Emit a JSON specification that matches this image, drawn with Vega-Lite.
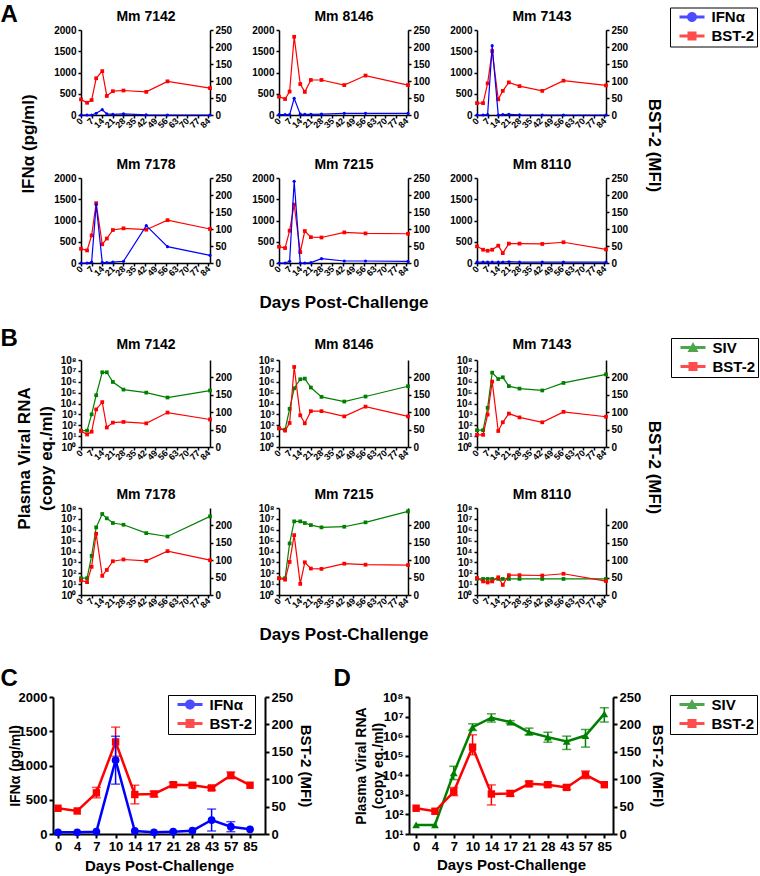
{
"$schema": "https://vega.github.io/schema/vega-lite/v6.json",
"padding": {"left": 0, "top": 0, "right": 2, "bottom": 2},
"background": "white",
"config": {
  "font": "Liberation Sans",
  "numberFormat": "d",
  "view": {"stroke": null},
  "axis": {"grid": false, "labelOverlap": false, "domainColor": "black", "tickColor": "black", "labelColor": "black", "titleColor": "black", "labelFont": "Liberation Sans", "titleFont": "Liberation Sans", "labelFontWeight": "bold", "titleFontWeight": "bold", "labelFontSize": 10, "titleFontSize": 17, "domainWidth": 1.5, "tickWidth": 1.5, "tickSize": 3, "labelPadding": 2},
  "legend": {"labelFont": "Liberation Sans", "labelFontWeight": "bold", "labelFontSize": 15, "labelColor": "black", "padding": 2, "rowPadding": 3, "symbolSize": 100, "symbolOffset": 12.5, "labelOffset": 12, "strokeColor": "black", "symbolStrokeWidth": 0}
},
"datasets": {
  "indiv": [
    {"m":"7142","day":0,"ifn":0,"bst":46,"siv":32},
    {"m":"7142","day":4,"ifn":0,"bst":36,"siv":32},
    {"m":"7142","day":7,"ifn":0,"bst":44,"siv":1000},
    {"m":"7142","day":10,"ifn":40,"bst":108,"siv":57500},
    {"m":"7142","day":14,"ifn":125,"bst":129,"siv":7400000},
    {"m":"7142","day":17,"ifn":25,"bst":56,"siv":7400000},
    {"m":"7142","day":21,"ifn":15,"bst":70,"siv":955000},
    {"m":"7142","day":28,"ifn":25,"bst":72,"siv":190000},
    {"m":"7142","day":43,"ifn":5,"bst":68,"siv":100000},
    {"m":"7142","day":57,"ifn":0,"bst":99,"siv":35500},
    {"m":"7142","day":85,"ifn":0,"bst":79,"siv":155000},
    {"m":"8146","day":0,"ifn":10,"bst":54,"siv":51},
    {"m":"8146","day":4,"ifn":10,"bst":47,"siv":39},
    {"m":"8146","day":7,"ifn":10,"bst":69,"siv":3200},
    {"m":"8146","day":10,"ifn":392,"bst":230,"siv":251000},
    {"m":"8146","day":14,"ifn":20,"bst":91,"siv":1700000},
    {"m":"8146","day":17,"ifn":15,"bst":68,"siv":1950000},
    {"m":"8146","day":21,"ifn":15,"bst":103,"siv":295000},
    {"m":"8146","day":28,"ifn":20,"bst":103,"siv":40700},
    {"m":"8146","day":43,"ifn":40,"bst":88,"siv":15100},
    {"m":"8146","day":57,"ifn":40,"bst":116,"siv":43700},
    {"m":"8146","day":85,"ifn":40,"bst":88,"siv":389000},
    {"m":"7143","day":0,"ifn":0,"bst":35,"siv":35},
    {"m":"7143","day":4,"ifn":0,"bst":35,"siv":35},
    {"m":"7143","day":7,"ifn":10,"bst":93,"siv":4000},
    {"m":"7143","day":10,"ifn":1631,"bst":188,"siv":6900000},
    {"m":"7143","day":14,"ifn":0,"bst":46,"siv":1780000},
    {"m":"7143","day":17,"ifn":10,"bst":71,"siv":2570000},
    {"m":"7143","day":21,"ifn":15,"bst":96,"siv":398000},
    {"m":"7143","day":28,"ifn":5,"bst":85,"siv":234000},
    {"m":"7143","day":43,"ifn":0,"bst":71,"siv":158000},
    {"m":"7143","day":57,"ifn":0,"bst":101,"siv":776000},
    {"m":"7143","day":85,"ifn":0,"bst":87,"siv":4790000},
    {"m":"7178","day":0,"ifn":0,"bst":42,"siv":35},
    {"m":"7178","day":4,"ifn":0,"bst":37,"siv":35},
    {"m":"7178","day":7,"ifn":20,"bst":81,"siv":4000},
    {"m":"7178","day":10,"ifn":1373,"bst":176,"siv":1660000},
    {"m":"7178","day":14,"ifn":16,"bst":55,"siv":28200000},
    {"m":"7178","day":17,"ifn":10,"bst":72,"siv":11200000},
    {"m":"7178","day":21,"ifn":20,"bst":97,"siv":4170000},
    {"m":"7178","day":28,"ifn":40,"bst":102,"siv":2880000},
    {"m":"7178","day":43,"ifn":878,"bst":98,"siv":490000},
    {"m":"7178","day":57,"ifn":384,"bst":126,"siv":240000},
    {"m":"7178","day":85,"ifn":180,"bst":100,"siv":17000000},
    {"m":"7215","day":0,"ifn":0,"bst":48,"siv":35},
    {"m":"7215","day":4,"ifn":0,"bst":44,"siv":35},
    {"m":"7215","day":7,"ifn":40,"bst":95,"siv":55000},
    {"m":"7215","day":10,"ifn":1922,"bst":172,"siv":5900000},
    {"m":"7215","day":14,"ifn":0,"bst":32,"siv":5900000},
    {"m":"7215","day":17,"ifn":0,"bst":94,"siv":4170000},
    {"m":"7215","day":21,"ifn":10,"bst":76,"siv":2690000},
    {"m":"7215","day":28,"ifn":102,"bst":75,"siv":1660000},
    {"m":"7215","day":43,"ifn":47,"bst":90,"siv":1900000},
    {"m":"7215","day":57,"ifn":47,"bst":87,"siv":4790000},
    {"m":"7215","day":85,"ifn":40,"bst":86,"siv":49000000},
    {"m":"8110","day":0,"ifn":20,"bst":49,"siv":30},
    {"m":"8110","day":4,"ifn":20,"bst":39,"siv":30},
    {"m":"8110","day":7,"ifn":20,"bst":36,"siv":30},
    {"m":"8110","day":10,"ifn":20,"bst":39,"siv":30},
    {"m":"8110","day":14,"ifn":20,"bst":51,"siv":30},
    {"m":"8110","day":17,"ifn":20,"bst":29,"siv":30},
    {"m":"8110","day":21,"ifn":30,"bst":57,"siv":30},
    {"m":"8110","day":28,"ifn":20,"bst":57,"siv":30},
    {"m":"8110","day":43,"ifn":20,"bst":56,"siv":30},
    {"m":"8110","day":57,"ifn":20,"bst":61,"siv":30},
    {"m":"8110","day":85,"ifn":20,"bst":40,"siv":30}
  ],
  "meanC": [
    {"day":"0","ifn":24,"bst":47},
    {"day":"4","ifn":24,"bst":42},
    {"day":"7","ifn":34,"bst":75,"bst_lo":66,"bst_hi":85},
    {"day":"10","ifn":1078,"bst":168,"ifn_lo":728,"ifn_hi":1427,"bst_lo":142,"bst_hi":195},
    {"day":"14","ifn":44,"bst":72,"bst_lo":55,"bst_hi":89},
    {"day":"17","ifn":24,"bst":73,"bst_lo":68,"bst_hi":78},
    {"day":"21","ifn":34,"bst":90,"bst_lo":86,"bst_hi":94},
    {"day":"28","ifn":49,"bst":89,"bst_lo":85,"bst_hi":93},
    {"day":"43","ifn":204,"bst":84,"ifn_lo":44,"ifn_hi":364,"bst_lo":80,"bst_hi":88},
    {"day":"57","ifn":107,"bst":107,"ifn_lo":34,"ifn_hi":180,"bst_lo":101,"bst_hi":113},
    {"day":"85","ifn":68,"bst":89}
  ],
  "meanD": [
    {"day":"0","siv":29,"bst":47},
    {"day":"4","siv":29,"bst":41.5},
    {"day":"7","siv":13200,"bst":77,"siv_lo":6030,"siv_hi":28800,"bst_lo":70,"bst_hi":85},
    {"day":"10","siv":2880000,"bst":158.5,"siv_lo":1950000,"siv_hi":4270000,"bst_lo":144.5,"bst_hi":181},
    {"day":"14","siv":8710000,"bst":73,"siv_lo":5250000,"siv_hi":13800000,"bst_lo":53,"bst_hi":89.6},
    {"day":"17","siv":5250000,"bst":74,"siv_lo":4470000,"siv_hi":6170000,"bst_lo":69,"bst_hi":79},
    {"day":"21","siv":1580000,"bst":91.5,"siv_lo":1170000,"siv_hi":2570000,"bst_lo":87,"bst_hi":96},
    {"day":"28","siv":891000,"bst":90,"siv_lo":490000,"siv_hi":1580000,"bst_lo":86,"bst_hi":94},
    {"day":"43","siv":537000,"bst":85,"siv_lo":209000,"siv_hi":1000000,"bst_lo":81,"bst_hi":89},
    {"day":"57","siv":1070000,"bst":108,"siv_lo":275000,"siv_hi":2190000,"bst_lo":101,"bst_hi":115},
    {"day":"85","siv":13800000,"bst":90,"siv_lo":5250000,"siv_hi":28200000}
  ]
},
"resolve": {"scale": {"color": "independent", "shape": "independent"}},
"bounds": "flush",
"spacing": 697,
"vconcat": [
 {"bounds": "flush", "spacing": 29, "resolve": {"scale": {"color": "independent", "shape": "independent"}},
  "vconcat": [
   {"width": 1, "height": 1, "data": {"values": [{"v": 0}]},
    "layer": [
     {"mark": {"type": "point", "opacity": 0, "size": 0}},
     {"transform": [{"filter": "false"}], "mark": {"type": "point", "filled": true, "size": 100},
      "encoding": {
       "color": {"field": "series", "type": "nominal", "scale": {"domain": ["IFNα", "BST-2"], "range": ["#0000ff", "#ff0000"]}, "legend": {"title": null, "orient": "none", "legendX": 617, "legendY": 7.5, "encode": {"legend": {"update": {"strokeWidth": {"value": 3}}}}}},
       "shape": {"field": "series", "type": "nominal", "scale": {"domain": ["IFNα", "BST-2"], "range": ["M-2.5,-0.3H2.5V0.3H-2.5Z M-1,0A1,1 0 1,1 1,0A1,1 0 1,1 -1,0Z", "M-2.5,-0.3H2.5V0.3H-2.5Z M-0.9,-0.9H0.9V0.9H-0.9Z"]}}
      }}
    ]},
   {"bounds": "flush", "spacing": 27, "resolve": {"scale": {"color": "independent", "shape": "independent"}},
    "hconcat": [
     {"width": 1, "height": 1, "data": {"values": [{"v": 0}]}, "mark": {"type": "point", "opacity": 0, "size": 0}},
     {"bounds": "flush", "spacing": 330, "resolve": {"scale": {"color": "independent", "shape": "independent"}},
      "vconcat": [
       {"bounds": "flush", "spacing": 148, "resolve": {"scale": {"color": "independent", "shape": "independent"}},
        "vconcat": [
         {"bounds": "flush", "spacing": 69, "resolve": {"scale": {"color": "independent", "shape": "independent"}},
          "hconcat": [
           {"width": 129, "height": 85,
            "data": {"name": "indiv"}, "transform": [{"filter": "datum.m == '7142'"}],
            "encoding": {"x": {"field": "day", "type": "quantitative", "scale": {"domain": [0, 85], "nice": false}, "axis": {"values": [0,7,14,21,28,35,42,49,56,63,70,77,84], "labelAngle": -45, "labelAlign": "right", "labelBaseline": "middle", "labelFontSize": 9, "labelPadding": 1, "title": "A", "titleFontSize": 24, "titleAngle": 0, "titleAlign": "left", "titleBaseline": "alphabetic", "titleX": -81, "titleY": -94}}},
            "layer": [
             {"mark": {"type": "line", "color": "#ff0000", "strokeWidth": 1.2, "point": {"shape": "square", "size": 14, "filled": true, "color": "#ff0000"}}, "encoding": {"y": {"field": "bst", "type": "quantitative", "scale": {"domain": [0, 250], "nice": false}, "axis": {"orient": "right", "values": [0,50,100,150,200,250], "title": "Mm 7142", "titleFontSize": 14, "titleAngle": 0, "titleAlign": "center", "titleBaseline": "alphabetic", "titleX": -64.5, "titleY": -10}}}},
             {"mark": {"type": "line", "color": "#0000ff", "strokeWidth": 1.2, "point": {"shape": "circle", "size": 10, "filled": true, "color": "#0000ff"}}, "encoding": {"y": {"field": "ifn", "type": "quantitative", "scale": {"domain": [0, 2000], "nice": false}, "axis": {"orient": "left", "values": [0,500,1000,1500,2000], "title": "IFNα  (pg/ml)", "titleX": -52.5, "titleY": 113.5, "titleAngle": -90, "titleAlign": "center", "titleBaseline": "middle"}}}}
            ],
            "resolve": {"scale": {"y": "independent"}}},
           {"width": 129, "height": 85,
            "data": {"name": "indiv"}, "transform": [{"filter": "datum.m == '8146'"}],
            "encoding": {"x": {"field": "day", "type": "quantitative", "scale": {"domain": [0, 85], "nice": false}, "axis": {"values": [0,7,14,21,28,35,42,49,56,63,70,77,84], "title": null, "labelAngle": -45, "labelAlign": "right", "labelBaseline": "middle", "labelFontSize": 9, "labelPadding": 1}}},
            "layer": [
             {"mark": {"type": "line", "color": "#ff0000", "strokeWidth": 1.2, "point": {"shape": "square", "size": 14, "filled": true, "color": "#ff0000"}}, "encoding": {"y": {"field": "bst", "type": "quantitative", "scale": {"domain": [0, 250], "nice": false}, "axis": {"orient": "right", "values": [0,50,100,150,200,250], "title": null}}}},
             {"mark": {"type": "line", "color": "#0000ff", "strokeWidth": 1.2, "point": {"shape": "circle", "size": 10, "filled": true, "color": "#0000ff"}}, "encoding": {"y": {"field": "ifn", "type": "quantitative", "scale": {"domain": [0, 2000], "nice": false}, "axis": {"orient": "left", "values": [0,500,1000,1500,2000], "title": "Mm 8146", "titleFontSize": 14, "titleAngle": 0, "titleAlign": "center", "titleBaseline": "alphabetic", "titleX": 64.5, "titleY": -10}}}}
            ],
            "resolve": {"scale": {"y": "independent"}}},
           {"width": 129, "height": 85,
            "data": {"name": "indiv"}, "transform": [{"filter": "datum.m == '7143'"}],
            "encoding": {"x": {"field": "day", "type": "quantitative", "scale": {"domain": [0, 85], "nice": false}, "axis": {"values": [0,7,14,21,28,35,42,49,56,63,70,77,84], "title": null, "labelAngle": -45, "labelAlign": "right", "labelBaseline": "middle", "labelFontSize": 9, "labelPadding": 1}}},
            "layer": [
             {"mark": {"type": "line", "color": "#ff0000", "strokeWidth": 1.2, "point": {"shape": "square", "size": 14, "filled": true, "color": "#ff0000"}}, "encoding": {"y": {"field": "bst", "type": "quantitative", "scale": {"domain": [0, 250], "nice": false}, "axis": {"orient": "right", "values": [0,50,100,150,200,250], "title": "BST-2 (MFI)", "titleX": 47, "titleY": 115, "titleAngle": 90, "titleAlign": "center", "titleBaseline": "middle"}}}},
             {"mark": {"type": "line", "color": "#0000ff", "strokeWidth": 1.2, "point": {"shape": "circle", "size": 10, "filled": true, "color": "#0000ff"}}, "encoding": {"y": {"field": "ifn", "type": "quantitative", "scale": {"domain": [0, 2000], "nice": false}, "axis": {"orient": "left", "values": [0,500,1000,1500,2000], "title": "Mm 7143", "titleFontSize": 14, "titleAngle": 0, "titleAlign": "center", "titleBaseline": "alphabetic", "titleX": 64.5, "titleY": -10}}}}
            ],
            "resolve": {"scale": {"y": "independent"}}}
          ]},
         {"bounds": "flush", "spacing": 69, "resolve": {"scale": {"color": "independent", "shape": "independent"}},
          "hconcat": [
           {"width": 129, "height": 85,
            "data": {"name": "indiv"}, "transform": [{"filter": "datum.m == '7178'"}],
            "encoding": {"x": {"field": "day", "type": "quantitative", "scale": {"domain": [0, 85], "nice": false}, "axis": {"values": [0,7,14,21,28,35,42,49,56,63,70,77,84], "title": null, "labelAngle": -45, "labelAlign": "right", "labelBaseline": "middle", "labelFontSize": 9, "labelPadding": 1}}},
            "layer": [
             {"mark": {"type": "line", "color": "#ff0000", "strokeWidth": 1.2, "point": {"shape": "square", "size": 14, "filled": true, "color": "#ff0000"}}, "encoding": {"y": {"field": "bst", "type": "quantitative", "scale": {"domain": [0, 250], "nice": false}, "axis": {"orient": "right", "values": [0,50,100,150,200,250], "title": null}}}},
             {"mark": {"type": "line", "color": "#0000ff", "strokeWidth": 1.2, "point": {"shape": "circle", "size": 10, "filled": true, "color": "#0000ff"}}, "encoding": {"y": {"field": "ifn", "type": "quantitative", "scale": {"domain": [0, 2000], "nice": false}, "axis": {"orient": "left", "values": [0,500,1000,1500,2000], "title": "Mm 7178", "titleFontSize": 14, "titleAngle": 0, "titleAlign": "center", "titleBaseline": "alphabetic", "titleX": 64.5, "titleY": -10}}}}
            ],
            "resolve": {"scale": {"y": "independent"}}},
           {"width": 129, "height": 85,
            "data": {"name": "indiv"}, "transform": [{"filter": "datum.m == '7215'"}],
            "encoding": {"x": {"field": "day", "type": "quantitative", "scale": {"domain": [0, 85], "nice": false}, "axis": {"values": [0,7,14,21,28,35,42,49,56,63,70,77,84], "title": "Days Post-Challenge", "titleY": 44, "titleBaseline": "alphabetic", "labelAngle": -45, "labelAlign": "right", "labelBaseline": "middle", "labelFontSize": 9, "labelPadding": 1}}},
            "layer": [
             {"mark": {"type": "line", "color": "#ff0000", "strokeWidth": 1.2, "point": {"shape": "square", "size": 14, "filled": true, "color": "#ff0000"}}, "encoding": {"y": {"field": "bst", "type": "quantitative", "scale": {"domain": [0, 250], "nice": false}, "axis": {"orient": "right", "values": [0,50,100,150,200,250], "title": null}}}},
             {"mark": {"type": "line", "color": "#0000ff", "strokeWidth": 1.2, "point": {"shape": "circle", "size": 10, "filled": true, "color": "#0000ff"}}, "encoding": {"y": {"field": "ifn", "type": "quantitative", "scale": {"domain": [0, 2000], "nice": false}, "axis": {"orient": "left", "values": [0,500,1000,1500,2000], "title": "Mm 7215", "titleFontSize": 14, "titleAngle": 0, "titleAlign": "center", "titleBaseline": "alphabetic", "titleX": 64.5, "titleY": -10}}}}
            ],
            "resolve": {"scale": {"y": "independent"}}},
           {"width": 129, "height": 85,
            "data": {"name": "indiv"}, "transform": [{"filter": "datum.m == '8110'"}],
            "encoding": {"x": {"field": "day", "type": "quantitative", "scale": {"domain": [0, 85], "nice": false}, "axis": {"values": [0,7,14,21,28,35,42,49,56,63,70,77,84], "title": null, "labelAngle": -45, "labelAlign": "right", "labelBaseline": "middle", "labelFontSize": 9, "labelPadding": 1}}},
            "layer": [
             {"mark": {"type": "line", "color": "#ff0000", "strokeWidth": 1.2, "point": {"shape": "square", "size": 14, "filled": true, "color": "#ff0000"}}, "encoding": {"y": {"field": "bst", "type": "quantitative", "scale": {"domain": [0, 250], "nice": false}, "axis": {"orient": "right", "values": [0,50,100,150,200,250], "title": null}}}},
             {"mark": {"type": "line", "color": "#0000ff", "strokeWidth": 1.2, "point": {"shape": "circle", "size": 10, "filled": true, "color": "#0000ff"}}, "encoding": {"y": {"field": "ifn", "type": "quantitative", "scale": {"domain": [0, 2000], "nice": false}, "axis": {"orient": "left", "values": [0,500,1000,1500,2000], "title": "Mm 8110", "titleFontSize": 14, "titleAngle": 0, "titleAlign": "center", "titleBaseline": "alphabetic", "titleX": 64.5, "titleY": -10}}}}
            ],
            "resolve": {"scale": {"y": "independent"}}}
          ]}
        ]},
       {"bounds": "flush", "spacing": 148, "resolve": {"scale": {"color": "independent", "shape": "independent"}},
        "vconcat": [
         {"bounds": "flush", "spacing": 69, "resolve": {"scale": {"color": "independent", "shape": "independent"}},
          "hconcat": [
           {"width": 129, "height": 87,
            "data": {"name": "indiv"}, "transform": [{"filter": "datum.m == '7142'"}],
            "encoding": {"x": {"field": "day", "type": "quantitative", "scale": {"domain": [0, 85], "nice": false}, "axis": {"values": [0,7,14,21,28,35,42,49,56,63,70,77,84], "labelAngle": -45, "labelAlign": "right", "labelBaseline": "middle", "labelFontSize": 9, "labelPadding": 1, "title": "B", "titleFontSize": 24, "titleAngle": 0, "titleAlign": "left", "titleBaseline": "alphabetic", "titleX": -81, "titleY": -102}}},
            "layer": [
             {"mark": {"type": "line", "color": "#008000", "strokeWidth": 1.2, "point": {"shape": "square", "size": 14, "filled": true, "color": "#008000"}}, "encoding": {"y": {"field": "siv", "type": "quantitative", "scale": {"type": "log", "domain": [1, 100000000], "nice": false}, "axis": {"orient": "left", "values": [1,10,100,1000,10000,100000,1000000,10000000,100000000], "labelExpr": "'10' + ['⁰','¹','²','³','⁴','⁵','⁶','⁷','⁸'][round(log(datum.value)/LN10)]", "title": ["Plasma Viral RNA", "(copy eq./ml)"], "titleLineHeight": 22, "titleX": -56.5, "titleY": 98, "titleAngle": -90, "titleAlign": "center", "titleBaseline": "middle"}}}},
             {"mark": {"type": "line", "color": "#ff0000", "strokeWidth": 1.2, "point": {"shape": "square", "size": 14, "filled": true, "color": "#ff0000"}}, "encoding": {"y": {"field": "bst", "type": "quantitative", "scale": {"domain": [0, 250], "nice": false}, "axis": {"orient": "right", "values": [0,50,100,150,200], "title": "Mm 7142", "titleFontSize": 14, "titleAngle": 0, "titleAlign": "center", "titleBaseline": "alphabetic", "titleX": -64.5, "titleY": -12}}}}
            ],
            "resolve": {"scale": {"y": "independent"}}},
           {"width": 129, "height": 87,
            "data": {"name": "indiv"}, "transform": [{"filter": "datum.m == '8146'"}],
            "encoding": {"x": {"field": "day", "type": "quantitative", "scale": {"domain": [0, 85], "nice": false}, "axis": {"values": [0,7,14,21,28,35,42,49,56,63,70,77,84], "title": null, "labelAngle": -45, "labelAlign": "right", "labelBaseline": "middle", "labelFontSize": 9, "labelPadding": 1}}},
            "layer": [
             {"mark": {"type": "line", "color": "#008000", "strokeWidth": 1.2, "point": {"shape": "square", "size": 14, "filled": true, "color": "#008000"}}, "encoding": {"y": {"field": "siv", "type": "quantitative", "scale": {"type": "log", "domain": [1, 100000000], "nice": false}, "axis": {"orient": "left", "values": [1,10,100,1000,10000,100000,1000000,10000000,100000000], "labelExpr": "'10' + ['⁰','¹','²','³','⁴','⁵','⁶','⁷','⁸'][round(log(datum.value)/LN10)]", "title": "Mm 8146", "titleFontSize": 14, "titleAngle": 0, "titleAlign": "center", "titleBaseline": "alphabetic", "titleX": 64.5, "titleY": -12}}}},
             {"mark": {"type": "line", "color": "#ff0000", "strokeWidth": 1.2, "point": {"shape": "square", "size": 14, "filled": true, "color": "#ff0000"}}, "encoding": {"y": {"field": "bst", "type": "quantitative", "scale": {"domain": [0, 250], "nice": false}, "axis": {"orient": "right", "values": [0,50,100,150,200], "title": null}}}}
            ],
            "resolve": {"scale": {"y": "independent"}}},
           {"width": 129, "height": 87,
            "data": {"name": "indiv"}, "transform": [{"filter": "datum.m == '7143'"}],
            "encoding": {"x": {"field": "day", "type": "quantitative", "scale": {"domain": [0, 85], "nice": false}, "axis": {"values": [0,7,14,21,28,35,42,49,56,63,70,77,84], "title": null, "labelAngle": -45, "labelAlign": "right", "labelBaseline": "middle", "labelFontSize": 9, "labelPadding": 1}}},
            "layer": [
             {"mark": {"type": "line", "color": "#008000", "strokeWidth": 1.2, "point": {"shape": "square", "size": 14, "filled": true, "color": "#008000"}}, "encoding": {"y": {"field": "siv", "type": "quantitative", "scale": {"type": "log", "domain": [1, 100000000], "nice": false}, "axis": {"orient": "left", "values": [1,10,100,1000,10000,100000,1000000,10000000,100000000], "labelExpr": "'10' + ['⁰','¹','²','³','⁴','⁵','⁶','⁷','⁸'][round(log(datum.value)/LN10)]", "title": "Mm 7143", "titleFontSize": 14, "titleAngle": 0, "titleAlign": "center", "titleBaseline": "alphabetic", "titleX": 64.5, "titleY": -12}}}},
             {"mark": {"type": "line", "color": "#ff0000", "strokeWidth": 1.2, "point": {"shape": "square", "size": 14, "filled": true, "color": "#ff0000"}}, "encoding": {"y": {"field": "bst", "type": "quantitative", "scale": {"domain": [0, 250], "nice": false}, "axis": {"orient": "right", "values": [0,50,100,150,200], "title": "BST-2 (MFI)", "titleX": 47.5, "titleY": 107, "titleAngle": 90, "titleAlign": "center", "titleBaseline": "middle"}}}},
             {"transform": [{"filter": "false"}], "mark": {"type": "point", "filled": true, "size": 100},
              "encoding": {
               "color": {"field": "series", "type": "nominal", "scale": {"domain": ["SIV", "BST-2"], "range": ["#008000", "#ff0000"]}, "legend": {"title": null, "orient": "none", "legendX": 194, "legendY": -22, "encode": {"legend": {"update": {"strokeWidth": {"value": 3}}}}}},
               "shape": {"field": "series", "type": "nominal", "scale": {"domain": ["SIV", "BST-2"], "range": ["M-2.5,-0.3H2.5V0.3H-2.5Z M0,-1.1L1.1,0.9H-1.1Z", "M-2.5,-0.3H2.5V0.3H-2.5Z M-0.9,-0.9H0.9V0.9H-0.9Z"]}}
              }}
            ],
            "resolve": {"scale": {"y": "independent"}}}
          ]},
         {"bounds": "flush", "spacing": 69, "resolve": {"scale": {"color": "independent", "shape": "independent"}},
          "hconcat": [
           {"width": 129, "height": 87,
            "data": {"name": "indiv"}, "transform": [{"filter": "datum.m == '7178'"}],
            "encoding": {"x": {"field": "day", "type": "quantitative", "scale": {"domain": [0, 85], "nice": false}, "axis": {"values": [0,7,14,21,28,35,42,49,56,63,70,77,84], "labelAngle": -45, "labelAlign": "right", "labelBaseline": "middle", "labelFontSize": 9, "labelPadding": 1, "title": "C", "titleFontSize": 24, "titleAngle": 0, "titleAlign": "left", "titleBaseline": "alphabetic", "titleX": -81, "titleY": 90}}},
            "layer": [
             {"mark": {"type": "line", "color": "#008000", "strokeWidth": 1.2, "point": {"shape": "square", "size": 14, "filled": true, "color": "#008000"}}, "encoding": {"y": {"field": "siv", "type": "quantitative", "scale": {"type": "log", "domain": [1, 100000000], "nice": false}, "axis": {"orient": "left", "values": [1,10,100,1000,10000,100000,1000000,10000000,100000000], "labelExpr": "'10' + ['⁰','¹','²','³','⁴','⁵','⁶','⁷','⁸'][round(log(datum.value)/LN10)]", "title": "Mm 7178", "titleFontSize": 14, "titleAngle": 0, "titleAlign": "center", "titleBaseline": "alphabetic", "titleX": 64.5, "titleY": -10}}}},
             {"mark": {"type": "line", "color": "#ff0000", "strokeWidth": 1.2, "point": {"shape": "square", "size": 14, "filled": true, "color": "#ff0000"}}, "encoding": {"y": {"field": "bst", "type": "quantitative", "scale": {"domain": [0, 250], "nice": false}, "axis": {"orient": "right", "values": [0,50,100,150,200], "title": null}}}}
            ],
            "resolve": {"scale": {"y": "independent"}}},
           {"width": 129, "height": 87,
            "data": {"name": "indiv"}, "transform": [{"filter": "datum.m == '7215'"}],
            "encoding": {"x": {"field": "day", "type": "quantitative", "scale": {"domain": [0, 85], "nice": false}, "axis": {"values": [0,7,14,21,28,35,42,49,56,63,70,77,84], "title": "Days Post-Challenge", "titleY": 44, "titleBaseline": "alphabetic", "labelAngle": -45, "labelAlign": "right", "labelBaseline": "middle", "labelFontSize": 9, "labelPadding": 1}}},
            "layer": [
             {"mark": {"type": "line", "color": "#008000", "strokeWidth": 1.2, "point": {"shape": "square", "size": 14, "filled": true, "color": "#008000"}}, "encoding": {"y": {"field": "siv", "type": "quantitative", "scale": {"type": "log", "domain": [1, 100000000], "nice": false}, "axis": {"orient": "left", "values": [1,10,100,1000,10000,100000,1000000,10000000,100000000], "labelExpr": "'10' + ['⁰','¹','²','³','⁴','⁵','⁶','⁷','⁸'][round(log(datum.value)/LN10)]", "title": "Mm 7215", "titleFontSize": 14, "titleAngle": 0, "titleAlign": "center", "titleBaseline": "alphabetic", "titleX": 64.5, "titleY": -10}}}},
             {"mark": {"type": "line", "color": "#ff0000", "strokeWidth": 1.2, "point": {"shape": "square", "size": 14, "filled": true, "color": "#ff0000"}}, "encoding": {"y": {"field": "bst", "type": "quantitative", "scale": {"domain": [0, 250], "nice": false}, "axis": {"orient": "right", "values": [0,50,100,150,200], "title": null}}}}
            ],
            "resolve": {"scale": {"y": "independent"}}},
           {"width": 129, "height": 87,
            "data": {"name": "indiv"}, "transform": [{"filter": "datum.m == '8110'"}],
            "encoding": {"x": {"field": "day", "type": "quantitative", "scale": {"domain": [0, 85], "nice": false}, "axis": {"values": [0,7,14,21,28,35,42,49,56,63,70,77,84], "labelAngle": -45, "labelAlign": "right", "labelBaseline": "middle", "labelFontSize": 9, "labelPadding": 1, "title": "D", "titleFontSize": 24, "titleAngle": 0, "titleAlign": "left", "titleBaseline": "alphabetic", "titleX": -144, "titleY": 90}}},
            "layer": [
             {"mark": {"type": "line", "color": "#008000", "strokeWidth": 1.2, "point": {"shape": "square", "size": 14, "filled": true, "color": "#008000"}}, "encoding": {"y": {"field": "siv", "type": "quantitative", "scale": {"type": "log", "domain": [1, 100000000], "nice": false}, "axis": {"orient": "left", "values": [1,10,100,1000,10000,100000,1000000,10000000,100000000], "labelExpr": "'10' + ['⁰','¹','²','³','⁴','⁵','⁶','⁷','⁸'][round(log(datum.value)/LN10)]", "title": "Mm 8110", "titleFontSize": 14, "titleAngle": 0, "titleAlign": "center", "titleBaseline": "alphabetic", "titleX": 64.5, "titleY": -10}}}},
             {"mark": {"type": "line", "color": "#ff0000", "strokeWidth": 1.2, "point": {"shape": "square", "size": 14, "filled": true, "color": "#ff0000"}}, "encoding": {"y": {"field": "bst", "type": "quantitative", "scale": {"domain": [0, 250], "nice": false}, "axis": {"orient": "right", "values": [0,50,100,150,200], "title": null}}}}
            ],
            "resolve": {"scale": {"y": "independent"}}}
          ]}
        ]}
      ]}
    ]}
  ]},
 {"bounds": "flush", "spacing": 144, "resolve": {"scale": {"color": "independent", "shape": "independent"}},
  "hconcat": [
   {"width": 212, "height": 137,
    "data": {"name": "meanC"},
    "encoding": {"x": {"field": "day", "type": "ordinal", "sort": null, "scale": {"type": "point", "domain": ["0","4","7","10","14","17","21","28","43","57","85"], "padding": 0.52, "align": 0.25}, "axis": {"labelAngle": 0, "labelAlign": "center", "labelBaseline": "top", "labelFontSize": 13, "labelPadding": 2, "tickSize": 4, "tickWidth": 2, "domainWidth": 2, "title": "Days Post-Challenge", "titleFontSize": 15, "titleY": 36, "titleBaseline": "alphabetic"}}},
    "layer": [
     {"layer": [
       {"transform": [{"filter": "datum.bst_lo != null"}], "mark": {"type": "rule", "color": "#ff0000", "strokeWidth": 1.5}, "encoding": {"y": {"field": "bst_lo", "type": "quantitative", "scale": {"domain": [0, 250], "nice": false}, "axis": {"orient": "right", "values": [0,50,100,150,200,250], "labelFontSize": 13, "tickSize": 4, "tickWidth": 2, "domainWidth": 2, "labelPadding": 2, "title": "BST-2 (MFI)", "titleFontSize": 15, "titleX": 40, "titleAngle": 90, "titleAlign": "center", "titleBaseline": "middle"}}, "y2": {"field": "bst_hi"}}},
       {"transform": [{"filter": "datum.bst_lo != null"}], "mark": {"type": "tick", "color": "#ff0000", "thickness": 1.5, "size": 9}, "encoding": {"y": {"field": "bst_hi", "type": "quantitative", "scale": {"domain": [0, 250], "nice": false}, "axis": {"orient": "right", "values": [0,50,100,150,200,250], "labelFontSize": 13, "tickSize": 4, "tickWidth": 2, "domainWidth": 2, "labelPadding": 2, "title": "BST-2 (MFI)", "titleFontSize": 15, "titleX": 40, "titleAngle": 90, "titleAlign": "center", "titleBaseline": "middle"}}}},
       {"transform": [{"filter": "datum.bst_lo != null"}], "mark": {"type": "tick", "color": "#ff0000", "thickness": 1.5, "size": 9}, "encoding": {"y": {"field": "bst_lo", "type": "quantitative", "scale": {"domain": [0, 250], "nice": false}, "axis": {"orient": "right", "values": [0,50,100,150,200,250], "labelFontSize": 13, "tickSize": 4, "tickWidth": 2, "domainWidth": 2, "labelPadding": 2, "title": "BST-2 (MFI)", "titleFontSize": 15, "titleX": 40, "titleAngle": 90, "titleAlign": "center", "titleBaseline": "middle"}}}},
       {"mark": {"type": "line", "color": "#ff0000", "strokeWidth": 2.5, "point": {"shape": "square", "size": 55, "filled": true, "color": "#ff0000"}}, "encoding": {"y": {"field": "bst", "type": "quantitative", "scale": {"domain": [0, 250], "nice": false}, "axis": {"orient": "right", "values": [0,50,100,150,200,250], "labelFontSize": 13, "tickSize": 4, "tickWidth": 2, "domainWidth": 2, "labelPadding": 2, "title": "BST-2 (MFI)", "titleFontSize": 15, "titleX": 40, "titleAngle": 90, "titleAlign": "center", "titleBaseline": "middle"}}}}
     ]},
     {"layer": [
       {"transform": [{"filter": "datum.ifn_lo != null"}], "mark": {"type": "rule", "color": "#0000ff", "strokeWidth": 1.5}, "encoding": {"y": {"field": "ifn_lo", "type": "quantitative", "scale": {"domain": [0, 2000], "nice": false}, "axis": {"orient": "left", "values": [0,500,1000,1500,2000], "labelFontSize": 13, "tickSize": 4, "tickWidth": 2, "domainWidth": 2, "labelPadding": 2, "title": "IFNα  (pg/ml)", "titleFontSize": 14, "titleX": -38, "titleAngle": -90, "titleAlign": "center", "titleBaseline": "middle"}}, "y2": {"field": "ifn_hi"}}},
       {"transform": [{"filter": "datum.ifn_lo != null"}], "mark": {"type": "tick", "color": "#0000ff", "thickness": 1.5, "size": 9}, "encoding": {"y": {"field": "ifn_hi", "type": "quantitative", "scale": {"domain": [0, 2000], "nice": false}, "axis": {"orient": "left", "values": [0,500,1000,1500,2000], "labelFontSize": 13, "tickSize": 4, "tickWidth": 2, "domainWidth": 2, "labelPadding": 2, "title": "IFNα  (pg/ml)", "titleFontSize": 14, "titleX": -38, "titleAngle": -90, "titleAlign": "center", "titleBaseline": "middle"}}}},
       {"transform": [{"filter": "datum.ifn_lo != null"}], "mark": {"type": "tick", "color": "#0000ff", "thickness": 1.5, "size": 9}, "encoding": {"y": {"field": "ifn_lo", "type": "quantitative", "scale": {"domain": [0, 2000], "nice": false}, "axis": {"orient": "left", "values": [0,500,1000,1500,2000], "labelFontSize": 13, "tickSize": 4, "tickWidth": 2, "domainWidth": 2, "labelPadding": 2, "title": "IFNα  (pg/ml)", "titleFontSize": 14, "titleX": -38, "titleAngle": -90, "titleAlign": "center", "titleBaseline": "middle"}}}},
       {"mark": {"type": "line", "color": "#0000ff", "strokeWidth": 2.5, "point": {"shape": "circle", "size": 60, "filled": true, "color": "#0000ff"}}, "encoding": {"y": {"field": "ifn", "type": "quantitative", "scale": {"domain": [0, 2000], "nice": false}, "axis": {"orient": "left", "values": [0,500,1000,1500,2000], "labelFontSize": 13, "tickSize": 4, "tickWidth": 2, "domainWidth": 2, "labelPadding": 2, "title": "IFNα  (pg/ml)", "titleFontSize": 14, "titleX": -38, "titleAngle": -90, "titleAlign": "center", "titleBaseline": "middle"}}}}
     ]},
     {"transform": [{"filter": "false"}], "mark": {"type": "point", "filled": true, "size": 100},
      "encoding": {
       "color": {"field": "series", "type": "nominal", "scale": {"domain": ["IFNα", "BST-2"], "range": ["#0000ff", "#ff0000"]}, "legend": {"title": null, "orient": "none", "legendX": 115, "legendY": -2, "encode": {"legend": {"update": {"strokeWidth": {"value": 3}}}}}},
       "shape": {"field": "series", "type": "nominal", "scale": {"domain": ["IFNα", "BST-2"], "range": ["M-2.5,-0.3H2.5V0.3H-2.5Z M-1,0A1,1 0 1,1 1,0A1,1 0 1,1 -1,0Z", "M-2.5,-0.3H2.5V0.3H-2.5Z M-0.9,-0.9H0.9V0.9H-0.9Z"]}}
      }}
    ],
    "resolve": {"scale": {"y": "independent"}}},
   {"width": 204, "height": 137,
    "data": {"name": "meanD"},
    "encoding": {"x": {"field": "day", "type": "ordinal", "sort": null, "scale": {"type": "point", "domain": ["0","4","7","10","14","17","21","28","43","57","85"], "padding": 0.42, "align": 0.45}, "axis": {"labelAngle": 0, "labelAlign": "center", "labelBaseline": "top", "labelFontSize": 13, "labelPadding": 2, "tickSize": 4, "tickWidth": 2, "domainWidth": 2, "title": "Days Post-Challenge", "titleFontSize": 15, "titleY": 35, "titleBaseline": "alphabetic"}}},
    "layer": [
     {"layer": [
       {"transform": [{"filter": "datum.siv_lo != null"}], "mark": {"type": "rule", "color": "#008000", "strokeWidth": 1.5}, "encoding": {"y": {"field": "siv_lo", "type": "quantitative", "scale": {"type": "log", "domain": [10, 100000000], "nice": false}, "axis": {"orient": "left", "values": [10,100,1000,10000,100000,1000000,10000000,100000000], "labelExpr": "'10' + ['⁰','¹','²','³','⁴','⁵','⁶','⁷','⁸'][round(log(datum.value)/LN10)]", "labelFontSize": 13, "tickSize": 4, "tickWidth": 2, "domainWidth": 2, "labelPadding": 2, "title": ["Plasma Viral RNA", "(copy eq./ml)"], "titleFontSize": 14, "titleLineHeight": 17, "titleX": -48, "titleAngle": -90, "titleAlign": "center", "titleBaseline": "middle"}}, "y2": {"field": "siv_hi"}}},
       {"transform": [{"filter": "datum.siv_lo != null"}], "mark": {"type": "tick", "color": "#008000", "thickness": 1.5, "size": 9}, "encoding": {"y": {"field": "siv_hi", "type": "quantitative", "scale": {"type": "log", "domain": [10, 100000000], "nice": false}, "axis": {"orient": "left", "values": [10,100,1000,10000,100000,1000000,10000000,100000000], "labelExpr": "'10' + ['⁰','¹','²','³','⁴','⁵','⁶','⁷','⁸'][round(log(datum.value)/LN10)]", "labelFontSize": 13, "tickSize": 4, "tickWidth": 2, "domainWidth": 2, "labelPadding": 2, "title": ["Plasma Viral RNA", "(copy eq./ml)"], "titleFontSize": 14, "titleLineHeight": 17, "titleX": -48, "titleAngle": -90, "titleAlign": "center", "titleBaseline": "middle"}}}},
       {"transform": [{"filter": "datum.siv_lo != null"}], "mark": {"type": "tick", "color": "#008000", "thickness": 1.5, "size": 9}, "encoding": {"y": {"field": "siv_lo", "type": "quantitative", "scale": {"type": "log", "domain": [10, 100000000], "nice": false}, "axis": {"orient": "left", "values": [10,100,1000,10000,100000,1000000,10000000,100000000], "labelExpr": "'10' + ['⁰','¹','²','³','⁴','⁵','⁶','⁷','⁸'][round(log(datum.value)/LN10)]", "labelFontSize": 13, "tickSize": 4, "tickWidth": 2, "domainWidth": 2, "labelPadding": 2, "title": ["Plasma Viral RNA", "(copy eq./ml)"], "titleFontSize": 14, "titleLineHeight": 17, "titleX": -48, "titleAngle": -90, "titleAlign": "center", "titleBaseline": "middle"}}}},
       {"mark": {"type": "line", "color": "#008000", "strokeWidth": 2.5, "point": {"shape": "triangle-up", "size": 60, "filled": true, "color": "#008000"}}, "encoding": {"y": {"field": "siv", "type": "quantitative", "scale": {"type": "log", "domain": [10, 100000000], "nice": false}, "axis": {"orient": "left", "values": [10,100,1000,10000,100000,1000000,10000000,100000000], "labelExpr": "'10' + ['⁰','¹','²','³','⁴','⁵','⁶','⁷','⁸'][round(log(datum.value)/LN10)]", "labelFontSize": 13, "tickSize": 4, "tickWidth": 2, "domainWidth": 2, "labelPadding": 2, "title": ["Plasma Viral RNA", "(copy eq./ml)"], "titleFontSize": 14, "titleLineHeight": 17, "titleX": -48, "titleAngle": -90, "titleAlign": "center", "titleBaseline": "middle"}}}}
     ]},
     {"layer": [
       {"transform": [{"filter": "datum.bst_lo != null"}], "mark": {"type": "rule", "color": "#ff0000", "strokeWidth": 1.5}, "encoding": {"y": {"field": "bst_lo", "type": "quantitative", "scale": {"domain": [0, 250], "nice": false}, "axis": {"orient": "right", "values": [0,50,100,150,200,250], "labelFontSize": 13, "tickSize": 4, "tickWidth": 2, "domainWidth": 2, "labelPadding": 2, "title": "BST-2 (MFI)", "titleFontSize": 15, "titleX": 44, "titleAngle": 90, "titleAlign": "center", "titleBaseline": "middle"}}, "y2": {"field": "bst_hi"}}},
       {"transform": [{"filter": "datum.bst_lo != null"}], "mark": {"type": "tick", "color": "#ff0000", "thickness": 1.5, "size": 9}, "encoding": {"y": {"field": "bst_hi", "type": "quantitative", "scale": {"domain": [0, 250], "nice": false}, "axis": {"orient": "right", "values": [0,50,100,150,200,250], "labelFontSize": 13, "tickSize": 4, "tickWidth": 2, "domainWidth": 2, "labelPadding": 2, "title": "BST-2 (MFI)", "titleFontSize": 15, "titleX": 44, "titleAngle": 90, "titleAlign": "center", "titleBaseline": "middle"}}}},
       {"transform": [{"filter": "datum.bst_lo != null"}], "mark": {"type": "tick", "color": "#ff0000", "thickness": 1.5, "size": 9}, "encoding": {"y": {"field": "bst_lo", "type": "quantitative", "scale": {"domain": [0, 250], "nice": false}, "axis": {"orient": "right", "values": [0,50,100,150,200,250], "labelFontSize": 13, "tickSize": 4, "tickWidth": 2, "domainWidth": 2, "labelPadding": 2, "title": "BST-2 (MFI)", "titleFontSize": 15, "titleX": 44, "titleAngle": 90, "titleAlign": "center", "titleBaseline": "middle"}}}},
       {"mark": {"type": "line", "color": "#ff0000", "strokeWidth": 2.5, "point": {"shape": "square", "size": 55, "filled": true, "color": "#ff0000"}}, "encoding": {"y": {"field": "bst", "type": "quantitative", "scale": {"domain": [0, 250], "nice": false}, "axis": {"orient": "right", "values": [0,50,100,150,200,250], "labelFontSize": 13, "tickSize": 4, "tickWidth": 2, "domainWidth": 2, "labelPadding": 2, "title": "BST-2 (MFI)", "titleFontSize": 15, "titleX": 44, "titleAngle": 90, "titleAlign": "center", "titleBaseline": "middle"}}}}
     ]},
     {"transform": [{"filter": "false"}], "mark": {"type": "point", "filled": true, "size": 100},
      "encoding": {
       "color": {"field": "series", "type": "nominal", "scale": {"domain": ["SIV", "BST-2"], "range": ["#008000", "#ff0000"]}, "legend": {"title": null, "orient": "none", "legendX": 261, "legendY": -2, "encode": {"legend": {"update": {"strokeWidth": {"value": 3}}}}}},
       "shape": {"field": "series", "type": "nominal", "scale": {"domain": ["SIV", "BST-2"], "range": ["M-2.5,-0.3H2.5V0.3H-2.5Z M0,-1.1L1.1,0.9H-1.1Z", "M-2.5,-0.3H2.5V0.3H-2.5Z M-0.9,-0.9H0.9V0.9H-0.9Z"]}}
      }}
    ],
    "resolve": {"scale": {"y": "independent"}}}
  ]}
]
}
